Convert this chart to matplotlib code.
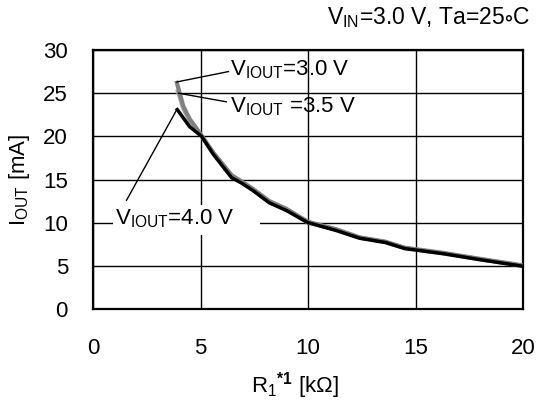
import numpy as np
import matplotlib.pyplot as plt
from matplotlib.patches import Rectangle

plt.rcParams['font.family'] = ['Liberation Sans', 'DejaVu Sans']
plt.rcParams['mathtext.fontset'] = 'custom'
plt.rcParams['mathtext.rm'] = 'Liberation Sans'
plt.rcParams['mathtext.it'] = 'Liberation Sans'
plt.rcParams['mathtext.bf'] = 'Liberation Sans:bold'

# Data (R1 in kOhm, IOUT in mA)
r_30 = [3.9, 4.2, 4.5, 5.05, 5.6, 6.45, 6.9, 7.45, 8.2, 9.0, 10.0, 11.3, 12.4, 13.6, 14.5, 16.3, 17.9, 20.0]
i_30 = [26.2, 23.5, 22.0, 20.1, 18.1, 15.5, 14.8, 13.9, 12.5, 11.6, 10.1, 9.25, 8.3, 7.8, 7.1, 6.5, 5.85, 5.05]

r_35 = [3.95, 4.2, 4.5, 5.05, 5.6, 6.45, 6.9, 7.45, 8.2, 9.0, 10.0, 11.3, 12.4, 13.6, 14.5, 16.3, 17.9, 20.0]
i_35 = [25.2, 23.2, 21.8, 20.0, 18.0, 15.4, 14.7, 13.8, 12.4, 11.5, 10.0, 9.2, 8.25, 7.75, 7.05, 6.45, 5.8, 5.0]

r_40 = [3.92, 4.5, 5.05, 5.6, 6.45, 6.9, 7.45, 8.2, 9.0, 10.0, 11.3, 12.4, 13.6, 14.5, 16.3, 17.9, 20.0]
i_40 = [23.1, 21.1, 20.0, 17.9, 15.2, 14.6, 13.7, 12.3, 11.4, 10.0, 9.1, 8.2, 7.7, 7.0, 6.4, 5.75, 4.95]

xticks = [0, 5, 10, 15, 20]
yticks = [0, 5, 10, 15, 20, 25, 30]

fs = 16

fig = plt.figure(figsize=(5.37, 4.03), dpi=100)
ax = fig.add_axes([93 / 537, 1 - 309 / 403, 430 / 537, 259 / 403])

ax.plot(r_35, i_35, color='#a8a8a8', lw=3.0, zorder=3)
ax.plot(r_30, i_30, color='#808080', lw=3.0, zorder=4)
ax.plot(r_40, i_40, color='black', lw=2.5, zorder=5)

ax.set_xlim(0, 20)
ax.set_ylim(0, 30)
ax.set_xticks(xticks)
ax.set_yticks(yticks)
ax.tick_params(length=0, labelsize=fs)
ax.tick_params(axis='x', pad=21)
ax.tick_params(axis='y', pad=18)
ax.grid(True, color='black', lw=1.0)
ax.set_axisbelow(True)
for s in ax.spines.values():
    s.set_linewidth(1.6)

ax.set_xlabel(r'$\mathregular{R_1}^{\mathbf{*1}}$ [k$\mathregular{\Omega}$]', fontsize=fs)
ax.xaxis.set_label_coords((295 - 93) / 430, (309 - 370) / 259)
ax.set_ylabel(r'$\mathregular{I_{OUT}}$ [mA]', fontsize=fs, labelpad=8)

fig.text(530 / 537, 1 - 24 / 403, r'$\mathregular{V_{IN}}$=3.0 V, Ta=25$\mathregular{\circ}$C',
         ha='right', va='baseline', fontsize=16.5)

# annotations with leader lines
ax.plot([6.3, 3.9], [27.5, 26.3], color='black', lw=1.0, zorder=6)
ax.text(6.35, 27.1, r'$\mathregular{V_{IOUT}}$=3.0 V', ha='left', va='baseline', fontsize=fs, zorder=7)
ax.plot([6.2, 3.97], [24.0, 25.0], color='black', lw=1.0, zorder=6)
ax.text(6.35, 22.8, r'$\mathregular{V_{IOUT}}$ =3.5 V', ha='left', va='baseline', fontsize=fs, zorder=7)
ax.plot([1.56, 3.9], [12.6, 23.1], color='black', lw=1.0, zorder=6)
ax.add_patch(Rectangle((0.93, 8.6), 6.84, 3.4, facecolor='white', edgecolor='none', zorder=2))
ax.text(1.02, 9.85, r'$\mathregular{V_{IOUT}}$=4.0 V', ha='left', va='baseline', fontsize=fs, zorder=7)

fig.savefig('out.png', dpi=100)
